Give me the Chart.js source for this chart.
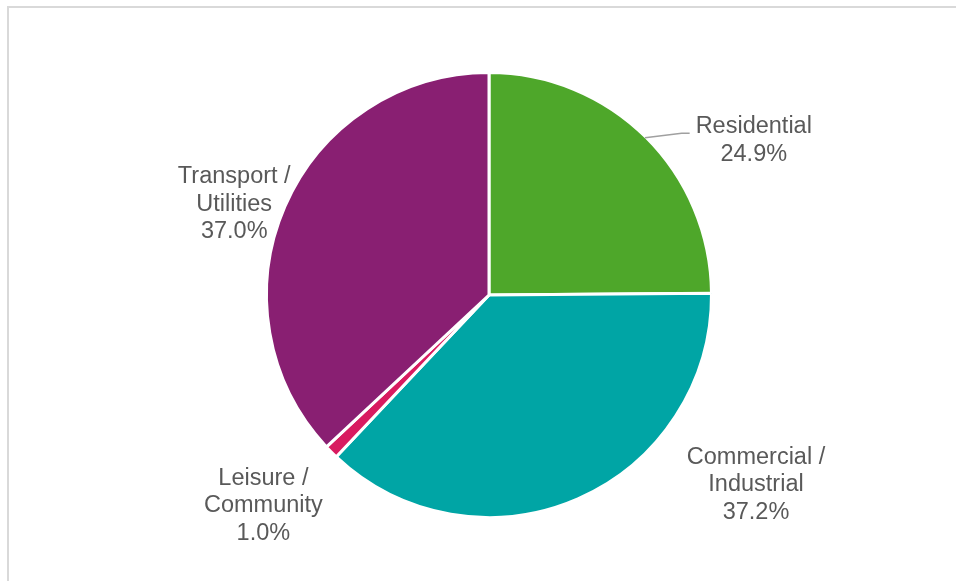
<!DOCTYPE html>
<html>
<head>
<meta charset="utf-8">
<script src="https://cdn.jsdelivr.net/npm/chart.js@4/dist/chart.umd.min.js"></script>
<style>
  html, body { margin: 0; padding: 0; background: #fff; overflow: hidden; }
  .wrap { position: relative; width: 956px; height: 581px; }
  .frame {
    position: absolute; left: 7px; top: 6px;
    width: 1200px; height: 900px;
    border: 2px solid #d9d9d9;
    box-sizing: border-box;
  }
  canvas { position: absolute; left: 0; top: 0; }
</style>
</head>
<body>
<div class="wrap">
  <div class="frame"></div>
  <canvas id="chart" width="956" height="581"></canvas>
</div>
<script>
const categories = ['Residential', 'Commercial / Industrial', 'Leisure / Community', 'Transport / Utilities'];
const shares = [24.9, 37.2, 1.0, 37.0];
const sliceColors = ['#4ea72a', '#00a5a5', '#d81b60', '#891f72'];

// where each label block sits, relative to the pie centre in units of its radius
const labelOffsets = [
  { x: 1.19, y: -0.70, leader: true },
  { x: 1.20, y: 0.846 },
  { x: -1.014, y: 0.941 },
  { x: -1.145, y: -0.415 },
];

const FONT = '23.5px "Liberation Sans", Arial, sans-serif';
const LINE_H = 27.5;

const splitLabel = (name) => {
  const parts = name.split(' / ');
  return parts.length > 1 ? [parts[0] + ' /', parts[1]] : [name];
};

const outsideLabels = {
  id: 'outsideLabels',
  afterDatasetsDraw(chart) {
    const { ctx } = chart;
    const meta = chart.getDatasetMeta(0);
    ctx.save();
    ctx.font = FONT;
    ctx.fillStyle = '#595959';
    ctx.textAlign = 'center';
    ctx.textBaseline = 'middle';
    meta.data.forEach((arc, i) => {
      const { x: cx, y: cy, outerRadius, startAngle, endAngle } = arc.getProps(['x', 'y', 'outerRadius', 'startAngle', 'endAngle'], true);
      const r = outerRadius;
      const place = labelOffsets[i];
      const lx = cx + place.x * r;
      const ly = cy + place.y * r;
      const lines = [...splitLabel(categories[i]), shares[i].toFixed(1) + '%'];
      // nudge down a touch so the cap height, not the em box, is centred
      const top = ly - (lines.length - 1) * LINE_H / 2 + 1.5;
      lines.forEach((line, j) => ctx.fillText(line, lx, top + j * LINE_H));

      if (place.leader) {
        const mid = (startAngle + endAngle) / 2;
        const widest = Math.max(...lines.map((l) => ctx.measureText(l).width));
        const endX = lx - widest / 2 - 6;
        const endY = ly - 6;
        ctx.beginPath();
        ctx.moveTo(cx + Math.cos(mid) * (r - 1), cy + Math.sin(mid) * (r - 1));
        ctx.lineTo(endX - 8, endY);
        ctx.lineTo(endX, endY);
        ctx.strokeStyle = '#a0a0a0';
        ctx.lineWidth = 1.5;
        ctx.stroke();
      }
    });
    ctx.restore();
  },
};

new Chart(document.getElementById('chart'), {
  type: 'pie',
  data: {
    labels: categories,
    datasets: [{
      data: shares,
      backgroundColor: sliceColors,
      borderColor: '#ffffff',
      borderWidth: 3,
    }],
  },
  options: {
    responsive: false,
    animation: false,
    layout: { padding: { top: 71, bottom: 62, left: 22, right: 0 } },
    plugins: {
      legend: { display: false },
      tooltip: { enabled: false },
    },
  },
  plugins: [outsideLabels],
});
</script>
</body>
</html>
